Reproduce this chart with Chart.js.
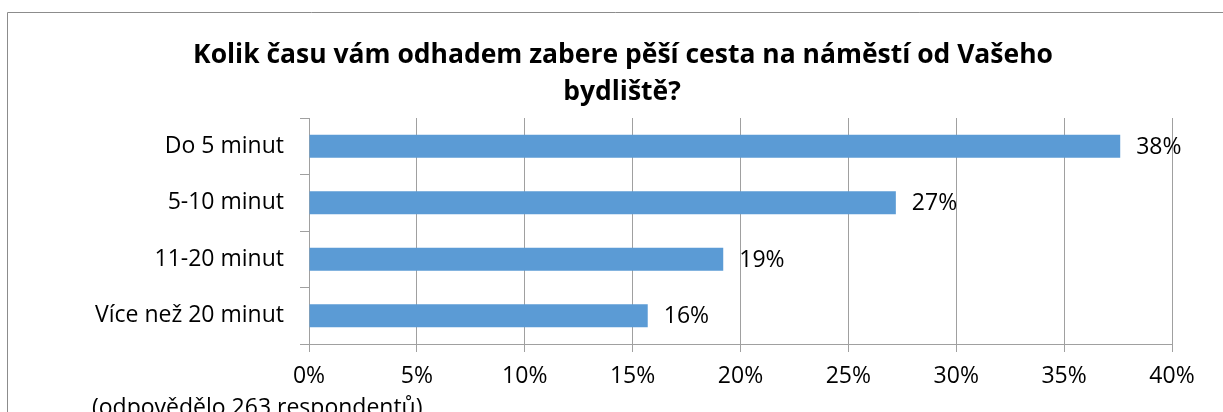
<!DOCTYPE html>
<html>
<head>
<meta charset="utf-8">
<script src="https://cdn.jsdelivr.net/npm/chart.js@4/dist/chart.umd.min.js"></script>
<style>
html,body{margin:0;padding:0;background:#fff;}
#wrap{width:1223px;height:412px;position:relative;}
</style>
</head>
<body>
<div id="wrap"><canvas id="c" width="1223" height="412"></canvas></div>
<script>
const titleLines = ["Kolik času vám odhadem zabere pěší cesta na náměstí od Vašeho", "bydliště?"];
const footnote = "(odpovědělo 263 respondentů)";
const categories = ["Do 5 minut", "5-10 minut", "11-20 minut", "Více než 20 minut"];
const values = [37.6, 27.2, 19.2, 15.7];
const valueLabels = ["38%", "27%", "19%", "16%"];
const tickMax = 40;
const tickStep = 5;

const FONT = "'Open Sans', 'Noto Sans', sans-serif";

const decorPlugin = {
  id: 'decor',
  beforeDraw(chart) {
    const ctx = chart.ctx;
    ctx.save();
    ctx.fillStyle = '#fff';
    ctx.fillRect(0, 0, chart.width, chart.height);
    ctx.strokeStyle = '#8c8c8c';
    ctx.lineWidth = 1;
    ctx.beginPath();
    ctx.moveTo(7.5, 412);
    ctx.lineTo(7.5, 12.5);
    ctx.lineTo(1223, 12.5);
    ctx.stroke();
    ctx.restore();
  },
  afterDraw(chart) {
    const ctx = chart.ctx;
    ctx.save();
    // title
    ctx.fillStyle = '#000';
    ctx.textAlign = 'center';
    ctx.textBaseline = 'alphabetic';
    ctx.font = "bold 100px " + FONT;
    const w = ctx.measureText(titleLines[0]).width;
    const size = 100 * 860 / w;
    ctx.font = "bold " + size.toFixed(2) + "px " + FONT;
    ctx.fillText(titleLines[0], 623, 63);
    ctx.fillText(titleLines[1], 622, 100);
    // footnote
    ctx.textAlign = 'left';
    ctx.font = "23px " + FONT;
    ctx.fillText(footnote, 92, 415);
    // value labels
    const meta = chart.getDatasetMeta(0);
    ctx.font = "23px " + FONT;
    ctx.textBaseline = 'middle';
    meta.data.forEach((bar, i) => {
      ctx.fillText(valueLabels[i], bar.x + 16, bar.y + 1);
    });
    ctx.restore();
  }
};

new Chart(document.getElementById('c'), {
  type: 'bar',
  data: {
    labels: categories,
    datasets: [{
      data: values,
      backgroundColor: '#5B9BD5',
      borderWidth: 0,
      categoryPercentage: 1.0,
      barPercentage: 0.41
    }]
  },
  options: {
    indexAxis: 'y',
    responsive: false,
    animation: false,
    devicePixelRatio: 1,
    layout: { padding: { left: 8, right: 51, top: 118, bottom: 20 } },
    plugins: {
      legend: { display: false },
      title: { display: false },
      tooltip: { enabled: false }
    },
    scales: {
      x: {
        min: 0,
        max: tickMax,
        afterFit(s) { s.height = 48; },
        ticks: {
          stepSize: tickStep,
          color: '#000',
          font: { family: FONT, size: 23 },
          padding: 11,
          callback: v => v + '%'
        },
        grid: {
          color: '#a0a0a0',
          lineWidth: 1,
          drawTicks: true,
          tickLength: 8,
          tickColor: '#a0a0a0'
        },
        border: { display: true, color: '#a0a0a0' }
      },
      y: {
        afterFit(s) { s.width = 301; },
        ticks: {
          color: '#000',
          font: { family: FONT, size: 23 },
          padding: 16
        },
        grid: {
          offset: true,
          drawOnChartArea: false,
          drawTicks: true,
          tickLength: 9,
          color: '#a0a0a0',
          tickColor: '#a0a0a0'
        },
        border: { display: true, color: '#a0a0a0' }
      }
    }
  },
  plugins: [decorPlugin]
});
</script>
</body>
</html>
